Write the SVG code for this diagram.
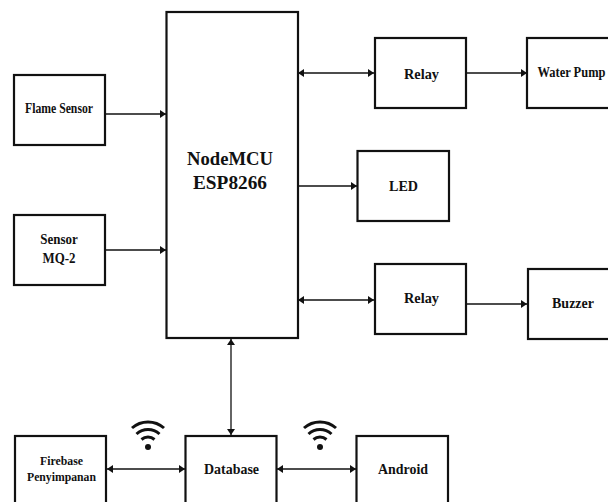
<svg xmlns="http://www.w3.org/2000/svg" width="608" height="502" viewBox="0 0 608 502">
<style>
.box{fill:#fff;stroke:#111;stroke-width:2.2}
.c{fill:none;stroke:#111;stroke-width:1.3}
.t{font-family:"Liberation Serif","Times New Roman",serif;font-weight:bold;fill:#111;text-anchor:middle}
.w{fill:none;stroke:#111;stroke-width:3}
</style>
<defs>
<marker id="a" viewBox="0 0 6 8" refX="6" refY="4" markerWidth="6" markerHeight="8" markerUnits="userSpaceOnUse" orient="auto-start-reverse"><path d="M0 0L6 4L0 8Z" fill="#111"/></marker>
<g id="wifi"><circle cx="0" cy="0" r="3" fill="#111"/><path class="w" d="M-6.500-7.500A10 10 0 0 1 6.500-7.500"/><path class="w" d="M-11.500-13A17 17 0 0 1 11.500-13"/><path class="w" d="M-16-19A24 24 0 0 1 16-19"/></g>
</defs>
<rect width="608" height="502" fill="#fff"/>
<g id="connectors">
<path class="c" d="M105 114H166" marker-end="url(#a)"/>
<path class="c" d="M105 250H166" marker-end="url(#a)"/>
<path class="c" d="M298 73H374" marker-start="url(#a)" marker-end="url(#a)"/>
<path class="c" d="M466 73H527" marker-end="url(#a)"/>
<path class="c" d="M298 186H357" marker-end="url(#a)"/>
<path class="c" d="M298 300H374" marker-start="url(#a)" marker-end="url(#a)"/>
<path class="c" d="M466 304H527" marker-end="url(#a)"/>
<path class="c" d="M231 339V435" marker-start="url(#a)" marker-end="url(#a)"/>
<path class="c" d="M107 469H185" marker-start="url(#a)" marker-end="url(#a)"/>
<path class="c" d="M277 469H356" marker-start="url(#a)" marker-end="url(#a)"/>
</g>
<g id="node-flame"><rect class="box" x="14" y="75" width="91" height="70"/><text class="t" x="59" y="113" font-size="14" textLength="68" lengthAdjust="spacingAndGlyphs">Flame Sensor</text></g>
<g id="node-mq2"><rect class="box" x="14" y="215" width="91" height="70"/><text class="t" x="59" y="244" font-size="14" textLength="37.500" lengthAdjust="spacingAndGlyphs">Sensor</text><text class="t" x="59" y="263" font-size="14" textLength="33" lengthAdjust="spacingAndGlyphs">MQ-2</text></g>
<g id="node-mcu"><rect class="box" x="166.500" y="12" width="131.500" height="326"/><text class="t" x="230" y="165" font-size="19" textLength="86" lengthAdjust="spacingAndGlyphs">NodeMCU</text><text class="t" x="230" y="189" font-size="19" textLength="74" lengthAdjust="spacingAndGlyphs">ESP8266</text></g>
<g id="node-relay1"><rect class="box" x="375" y="38" width="91" height="70"/><text class="t" x="421.500" y="79" font-size="15" textLength="35" lengthAdjust="spacingAndGlyphs">Relay</text></g>
<g id="node-pump"><rect class="box" x="527" y="38" width="91" height="70"/><text class="t" transform="translate(571.500 77) scale(.86 1)" font-size="14.500">Water Pump</text></g>
<g id="node-led"><rect class="box" x="357.500" y="151" width="91.500" height="70"/><text class="t" x="403.500" y="191" font-size="15" textLength="29" lengthAdjust="spacingAndGlyphs">LED</text></g>
<g id="node-relay2"><rect class="box" x="375" y="264" width="91" height="70"/><text class="t" x="421.500" y="303" font-size="15" textLength="35" lengthAdjust="spacingAndGlyphs">Relay</text></g>
<g id="node-buzzer"><rect class="box" x="528" y="269" width="91" height="70"/><text class="t" x="573" y="308" font-size="15" textLength="42" lengthAdjust="spacingAndGlyphs">Buzzer</text></g>
<g id="node-firebase"><rect class="box" x="15" y="436" width="91" height="70"/><text class="t" x="61.500" y="465" font-size="13" textLength="43" lengthAdjust="spacingAndGlyphs">Firebase</text><text class="t" x="61.500" y="481" font-size="13" textLength="69" lengthAdjust="spacingAndGlyphs">Penyimpanan</text></g>
<g id="node-database"><rect class="box" x="185.500" y="436" width="91" height="70"/><text class="t" x="231.500" y="474" font-size="15" textLength="55" lengthAdjust="spacingAndGlyphs">Database</text></g>
<g id="node-android"><rect class="box" x="356.500" y="436" width="91.500" height="70"/><text class="t" x="403" y="474" font-size="15" textLength="50" lengthAdjust="spacingAndGlyphs">Android</text></g>
<g id="wifi-left"><use href="#wifi" x="148" y="447"/></g>
<g id="wifi-right"><use href="#wifi" x="320" y="447"/></g>
</svg>
